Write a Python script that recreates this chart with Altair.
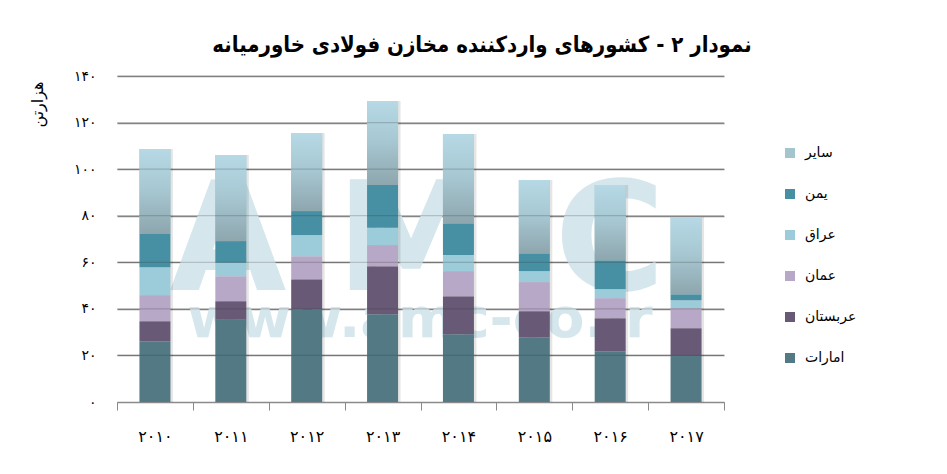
import altair as alt
import pandas as pd

# ---- data ----
years = ["۲۰۱۰", "۲۰۱۱", "۲۰۱۲", "۲۰۱۳", "۲۰۱۴", "۲۰۱۵", "۲۰۱۶", "۲۰۱۷"]
countries_bottom_up = ["امارات", "عربستان", "عمان", "عراق", "یمن", "سایر"]
uae = [26.1, 35.3, 39.6, 37.7, 29.1, 27.8, 21.8, 19.8]
saudi = [8.6, 8.0, 13.1, 20.6, 16.3, 11.2, 14.2, 11.9]
oman = [11.2, 10.7, 9.9, 9.1, 10.8, 12.5, 8.6, 8.6]
iraq = [12.0, 5.8, 9.1, 7.4, 6.9, 4.7, 3.9, 3.4]
yemen = [14.6, 9.3, 10.3, 18.4, 13.7, 7.7, 12.4, 2.6]
other = [36.1, 37.0, 33.5, 36.1, 38.3, 31.4, 32.3, 33.1]
y_ticks = [0, 20, 40, 60, 80, 100, 120, 140]
y_tick_labels = ["۰", "۲۰", "۴۰", "۶۰", "۸۰", "۱۰۰", "۱۲۰", "۱۴۰"]
title_text = "نمودار ۲ - کشورهای واردکننده مخازن فولادی خاورمیانه"
y_title = "هزارتن"

series = [uae, saudi, oman, iraq, yemen, other]
rows = []
for order, (name, vals) in enumerate(zip(countries_bottom_up, series)):
    for yr, v in zip(years, vals):
        rows.append({"year": yr, "country": name, "value": v, "order": order})
df = pd.DataFrame(rows)

legend_order = list(reversed(countries_bottom_up))
palette = ["#a4c4ce", "#478fa2", "#9ccbd9", "#b8a8c8", "#685a76", "#537985"]

FONT = "DejaVu Sans"

label_expr = " : ".join(
    f"datum.value == {v} ? '{l}'" for v, l in zip(y_ticks, y_tick_labels)
) + " : ''"

x_axis = alt.Axis(
    title=None, labelAngle=0, domainColor="#8a8a8a", tickColor="#8a8a8a",
    tickBand="extent", tickSize=8, labelFontSize=16, labelFont=FONT,
    labelPadding=18, labelColor="#000", grid=False, domainWidth=1.2,
)
y_axis = alt.Axis(
    values=y_ticks, labelExpr=label_expr, grid=True, gridColor="#8a8a8a",
    gridWidth=1.3, domain=False, ticks=False, labelPadding=21,
    labelFontSize=14, labelFont=FONT, labelColor="#000",
    title=y_title, titleFont=FONT, titleFontSize=16, titleFontWeight="normal",
    titleX=-80, titleY=28, titleAlign="center", titleBaseline="middle",
    titleColor="#000",
)
x_scale = alt.Scale(paddingInner=0, paddingOuter=0)
y_scale = alt.Scale(domain=[0, 140], nice=False)


def make_x():
    return alt.X("year:N", sort=years, scale=x_scale, axis=x_axis)


def make_y(field):
    return alt.Y(field, scale=y_scale, axis=y_axis)


base = alt.Chart(df).transform_stack(
    stack="value", groupby=["year"], as_=["y0", "y1"],
    sort=[alt.SortField("order", order="ascending")],
)

shadow = base.transform_filter(alt.datum.country == "سایر").mark_bar(
    size=31, xOffset=2.5, color="#000", opacity=0.1
).encode(x=make_x(), y=make_y("y1:Q"), y2=alt.datum(0))

bars = base.mark_bar(size=31).encode(
    x=make_x(),
    y=make_y("y0:Q"),
    y2="y1:Q",
    color=alt.Color(
        "country:N",
        scale=alt.Scale(domain=legend_order, range=palette),
        legend=alt.Legend(
            title=None, orient="none", legendX=666, legendY=70,
            symbolType="square", symbolSize=100, symbolStrokeWidth=0,
            labelFont=FONT, labelFontSize=14, labelColor="#000",
            rowPadding=27, labelOffset=8,
        ),
    ),
)

grad = alt.Gradient(
    gradient="linear",
    stops=[
        alt.GradientStop(color="#b6d9e5", offset=0),
        alt.GradientStop(color="#a8c9d4", offset=0.45),
        alt.GradientStop(color="#8ea6ae", offset=1),
    ],
    x1=0, x2=0, y1=0, y2=1,
)
other_bars = base.transform_filter(alt.datum.country == "سایر").mark_bar(
    size=31, color=grad
).encode(x=make_x(), y=make_y("y0:Q"), y2="y1:Q")

grid_over = alt.Chart(pd.DataFrame({"t": y_ticks[1:]})).mark_rule(
    color="#333", opacity=0.22, strokeWidth=1.2
).encode(y=make_y("t:Q"))


def const_text(txt, x, y, **kw):
    return alt.Chart(pd.DataFrame({"t": [txt]})).mark_text(**kw).encode(
        text="t:N", x=alt.value(x), y=alt.value(y)
    )


wm_style = dict(font=FONT, fontWeight="bold", color="#d5e7ed", baseline="alphabetic", align="center")
wm = [
    const_text("A", 111, 214, fontSize=151, **wm_style),
    const_text("M", 294, 214, fontSize=151, **wm_style),
    const_text("C", 493, 214, fontSize=151, **wm_style),
    const_text("www.amc-co.ir", 303, 261, fontSize=56, **wm_style),
]

title = const_text(
    title_text, 365, -31, font="DejaVu Sans Condensed", fontSize=22, fontWeight="bold",
    align="center", baseline="middle", color="#000",
)

chart = alt.layer(*wm, shadow, bars, other_bars, grid_over, title).properties(
    width=607, height=326,
    autosize=alt.AutoSizeParams(type="none"),
    padding={"left": 109, "top": 68, "right": 215, "bottom": 64},
).configure(background="white", view=alt.ViewConfig(stroke=None))

chart.save("out.html", embed_options={"renderer": "svg", "actions": False})
